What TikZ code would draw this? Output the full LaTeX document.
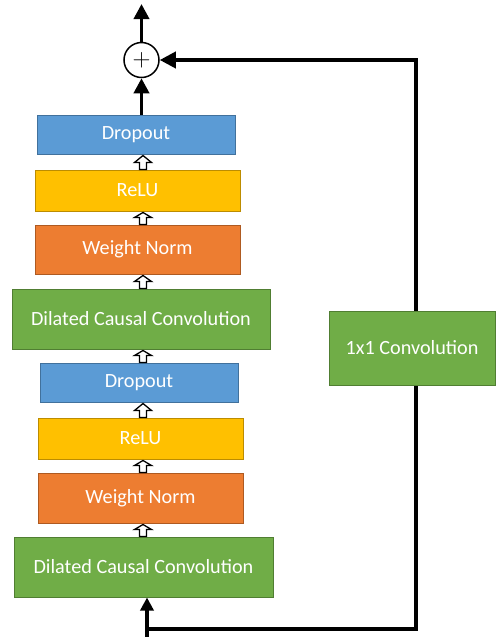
\documentclass[tikz,border=0pt]{standalone}
\usepackage{fontspec}
\setmainfont{Carlito}
\usetikzlibrary{arrows.meta,calc}
\definecolor{dblue}{HTML}{5B9BD5}\definecolor{dbluel}{HTML}{41719C}
\definecolor{ryel}{HTML}{FFC000}\definecolor{ryell}{HTML}{BC8C00}
\definecolor{worg}{HTML}{ED7D31}\definecolor{worgl}{HTML}{AE5A21}
\definecolor{cgrn}{HTML}{70AD47}\definecolor{cgrnl}{HTML}{507E32}
\newcommand\upblock[2]{%
  \draw[blockarr] ($(spine |- #1.north)+(-3.5,0)$) -- ($(spine |- #1.north)+(-3.5,-7)$) -- ($(spine |- #1.north)+(-8.5,-7)$)
   -- ($(spine |- #2.south)+(0,1)$) -- ($(spine |- #1.north)+(8.5,-7)$) -- ($(spine |- #1.north)+(3.5,-7)$) -- ($(spine |- #1.north)+(3.5,0)$) -- cycle;}
\begin{document}
\begin{tikzpicture}[x=1pt,y=-1pt,
  box/.style={line width=1pt, text=white, inner sep=0pt, font=\fontsize{20.2}{23}\selectfont},
  dropbox/.style={box, fill=dblue, draw=dbluel},
  relubox/.style={box, fill=ryel, draw=ryell},
  wnbox/.style={box, fill=worg, draw=worgl},
  convbox/.style={box, fill=cgrn, draw=cgrnl},
  blockarr/.style={draw=black, fill=white, line width=1.3pt, line join=miter},
  thick arrow/.style={line width=3.6pt, -{Triangle[length=15pt,width=15pt]}},
  plain line/.style={line width=3.6pt}]
\useasboundingbox (0,0) rectangle (496,637);
\coordinate (spine) at (143,0);
\coordinate (rx) at (416,0);
\node[dropbox, minimum width=198pt, minimum height=39pt] (do1) at (136,134.5) {Dropout};
\node[relubox, minimum width=205pt, minimum height=41pt] (re1) at (137.5,190.5) {ReLU};
\node[wnbox, minimum width=205pt, minimum height=49pt] (wn1) at (137.5,249.5) {Weight Norm};
\node[convbox, minimum width=258pt, minimum height=60pt] (dc1) at (141,319) {Dilated Causal Convolution};
\node[dropbox, minimum width=198pt, minimum height=39pt] (do2) at (139,382.5) {Dropout};
\node[relubox, minimum width=205pt, minimum height=41pt] (re2) at (140.5,438.5) {ReLU};
\node[wnbox, minimum width=205pt, minimum height=50pt] (wn2) at (140.5,498) {Weight Norm};
\node[convbox, minimum width=259pt, minimum height=60pt] (dc2) at (143.5,567) {Dilated Causal Convolution};
\node[convbox, minimum width=166pt, minimum height=74pt] (c11) at (412,348) {1x1 Convolution};
\node[circle, draw, line width=1.5pt, minimum size=35pt, inner sep=0pt, font=\fontsize{28}{28}\selectfont] (sum) at (141.5,60) {$+$};
\coordinate (out) at (141.5,4);
\coordinate (in) at (147,637);
\coordinate (corner) at (147,629);
\upblock{dc2}{wn2}
\upblock{wn2}{re2}
\upblock{re2}{do2}
\upblock{do2}{dc1}
\upblock{dc1}{wn1}
\upblock{wn1}{re1}
\upblock{re1}{do1}
\draw[thick arrow] (do1.north -| sum) -- (sum.south);
\draw[thick arrow] (sum.north) -- (out);
\draw[thick arrow, -{Triangle[length=13pt,width=13pt]}] (in) -- (dc2.south -| in);
\draw[plain line, line join=miter] (corner) -- (rx |- corner) -- (rx |- c11.south);
\draw[thick arrow, line join=miter, -{Triangle[length=16pt,width=16pt]}] (rx |- c11.north) -- (rx |- sum) -- (sum.east);
\end{tikzpicture}
\end{document}
